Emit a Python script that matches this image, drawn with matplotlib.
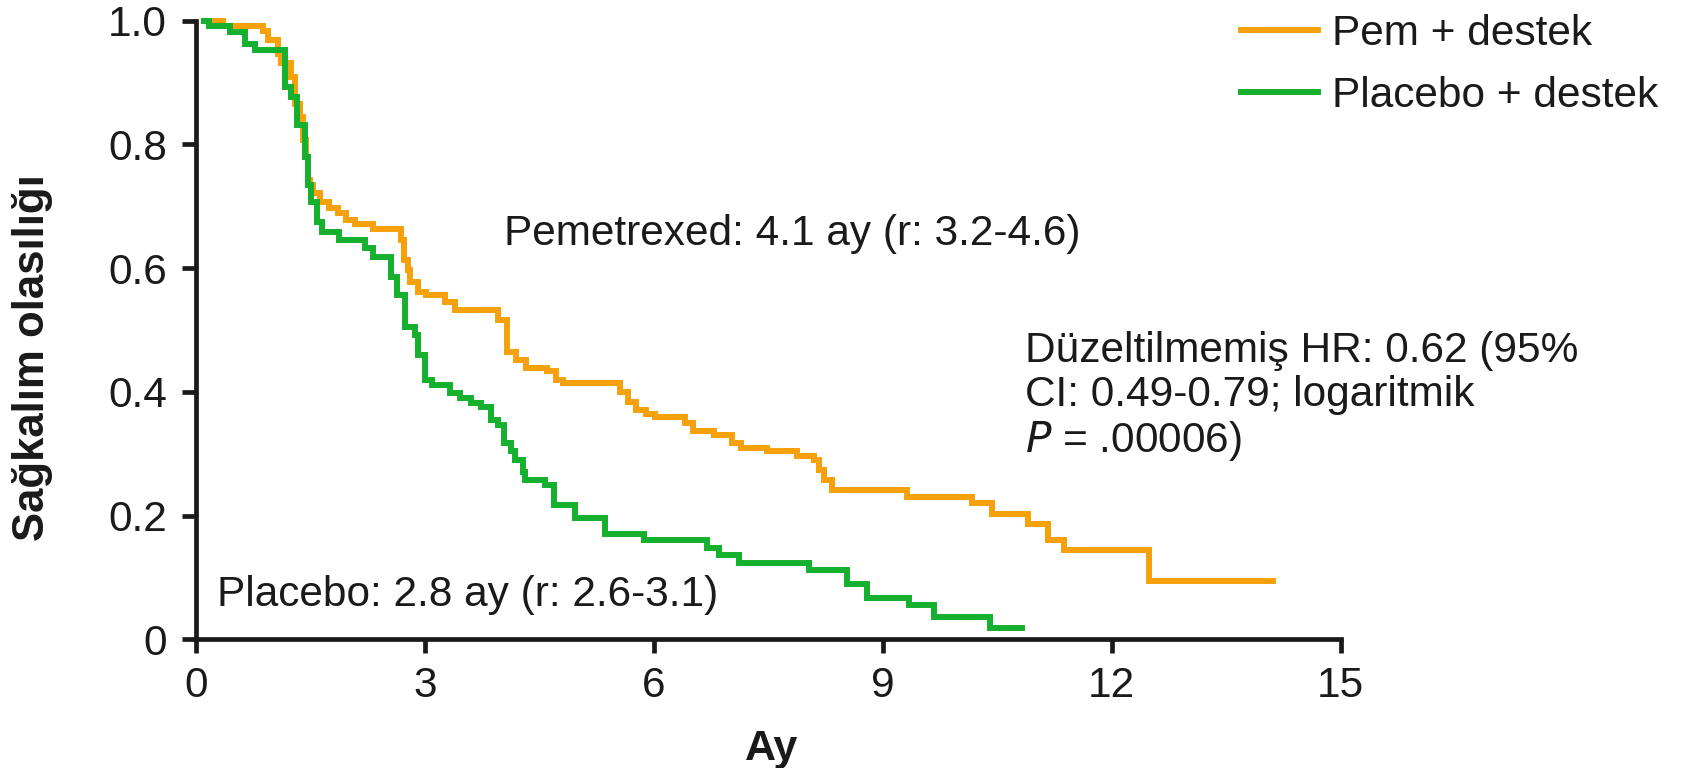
import matplotlib
matplotlib.use("Agg")
import matplotlib.pyplot as plt

plt.rcParams['font.family'] = ['Liberation Sans', 'DejaVu Sans']

# Pem + destek (Kaplan-Meier steps)
pem_t = [0.10, 0.35, 0.88, 0.95, 1.07, 1.11, 1.25, 1.30, 1.37, 1.40, 1.44, 1.47, 1.50, 1.54,
         1.62, 1.75, 1.86, 1.97, 2.08, 2.32, 2.69, 2.73, 2.78, 2.80, 2.91, 3.02, 3.26, 3.39,
         3.96, 4.07, 4.20, 4.33, 4.60, 4.72, 4.81, 5.56, 5.66, 5.77, 5.90, 6.01, 6.41, 6.52,
         6.79, 7.03, 7.14, 7.49, 7.88, 8.10, 8.16, 8.23, 8.34, 9.32, 10.17, 10.43, 10.91,
         11.17, 11.37, 12.49, 14.12]
pem_s = [1.000, 0.991, 0.984, 0.969, 0.946, 0.931, 0.909, 0.866, 0.845, 0.807, 0.780, 0.742,
         0.735, 0.721, 0.707, 0.697, 0.689, 0.678, 0.672, 0.664, 0.645, 0.613, 0.597, 0.578,
         0.562, 0.557, 0.546, 0.532, 0.516, 0.465, 0.452, 0.438, 0.433, 0.419, 0.414, 0.400,
         0.384, 0.371, 0.365, 0.360, 0.349, 0.336, 0.331, 0.318, 0.310, 0.304, 0.296, 0.290,
         0.274, 0.258, 0.242, 0.2305, 0.220, 0.202, 0.186, 0.160, 0.144, 0.095, 0.095]

# Placebo + destek
pla_t = [0.10, 0.17, 0.44, 0.64, 0.77, 1.17, 1.24, 1.33, 1.43, 1.47, 1.51, 1.58, 1.65, 1.87,
         2.22, 2.32, 2.56, 2.63, 2.74, 2.87, 2.91, 3.00, 3.09, 3.33, 3.46, 3.61, 3.74, 3.87,
         3.96, 4.04, 4.13, 4.18, 4.29, 4.31, 4.58, 4.69, 4.97, 5.36, 5.87, 6.70, 6.86, 7.12,
         8.03, 8.53, 8.80, 9.34, 9.67, 10.41, 10.82]
pla_s = [1.000, 0.991, 0.981, 0.963, 0.953, 0.893, 0.877, 0.831, 0.780, 0.734, 0.707, 0.675,
         0.659, 0.645, 0.632, 0.618, 0.586, 0.557, 0.505, 0.492, 0.460, 0.419, 0.411, 0.398,
         0.390, 0.382, 0.376, 0.355, 0.346, 0.317, 0.305, 0.290, 0.271, 0.258, 0.249, 0.217,
         0.196, 0.171, 0.160, 0.147, 0.136, 0.123, 0.112, 0.089, 0.066, 0.0555, 0.0366,
         0.0178, 0.0178]

x_ticks = [0, 3, 6, 9, 12, 15]
y_ticks = [0, 0.2, 0.4, 0.6, 0.8, 1.0]
y_ticklabels = ['0', '0.2', '0.4', '0.6', '0.8', '1.0']

series_labels = ['Pem + destek', 'Placebo + destek']
orange = '#F6A10C'
green = '#16B02F'
ink = '#1a1a1a'
fs = 30.5

fig = plt.figure(figsize=(16.82, 7.68), dpi=100)
ax = fig.add_axes([0.1165, 0.1676, 0.797 - 0.1165, 0.973 - 0.1676])

l1, = ax.step(pem_t, pem_s, where='post', color=orange, lw=4.3, clip_on=False,
              solid_joinstyle='miter')
l2, = ax.step(pla_t, pla_s, where='post', color=green, lw=4.3, clip_on=False,
              solid_joinstyle='miter')

ax.set_xlim(0, 15)
ax.set_ylim(0, 1.0)
ax.set_xticks(x_ticks)
ax.set_xticklabels([str(v) for v in x_ticks])
ax.set_yticks(y_ticks)
ax.set_yticklabels(y_ticklabels)
for s in ['top', 'right']:
    ax.spines[s].set_visible(False)
for s in ['left', 'bottom']:
    ax.spines[s].set_linewidth(3.4)
    ax.spines[s].set_color(ink)
ax.tick_params(axis='both', which='major', labelsize=fs, width=3.4, length=10,
               color=ink, labelcolor=ink)
ax.tick_params(axis='x', pad=9)
ax.tick_params(axis='y', pad=11)

# axis titles placed as in the reference
fig.text(772 / 1682, 1 - 760 / 768, 'Ay', fontsize=31, fontweight='bold',
         ha='center', va='baseline', color=ink)
fig.text(33 / 1682, 1 - 357.5 / 768, 'Sağkalım olasılığı', fontsize=31.5,
         fontweight='bold', rotation=90, ha='center', va='center', color=ink)

ax.text(4.04, 0.655, 'Pemetrexed: 4.1 ay (r: 3.2-4.6)', fontsize=fs, va='center',
        ha='left', color=ink)
ax.text(0.27, 0.072, 'Placebo: 2.8 ay (r: 2.6-3.1)', fontsize=fs, va='center',
        ha='left', color=ink)
ax.text(10.86, 0.392, 'Düzeltilmemiş HR: 0.62 (95%\nCI: 0.49-0.79; logaritmik\n$P$ = .00006)',
        fontsize=fs, va='center', ha='left', linespacing=1.13, color=ink)

fig.legend([l1, l2], series_labels, loc='upper left', bbox_to_anchor=(0.7255, 1.010),
           frameon=False, fontsize=fs, handlelength=1.8, handletextpad=0.33,
           labelspacing=0.53, borderpad=0.0, labelcolor=ink)

fig.savefig('out.png', dpi=100)
